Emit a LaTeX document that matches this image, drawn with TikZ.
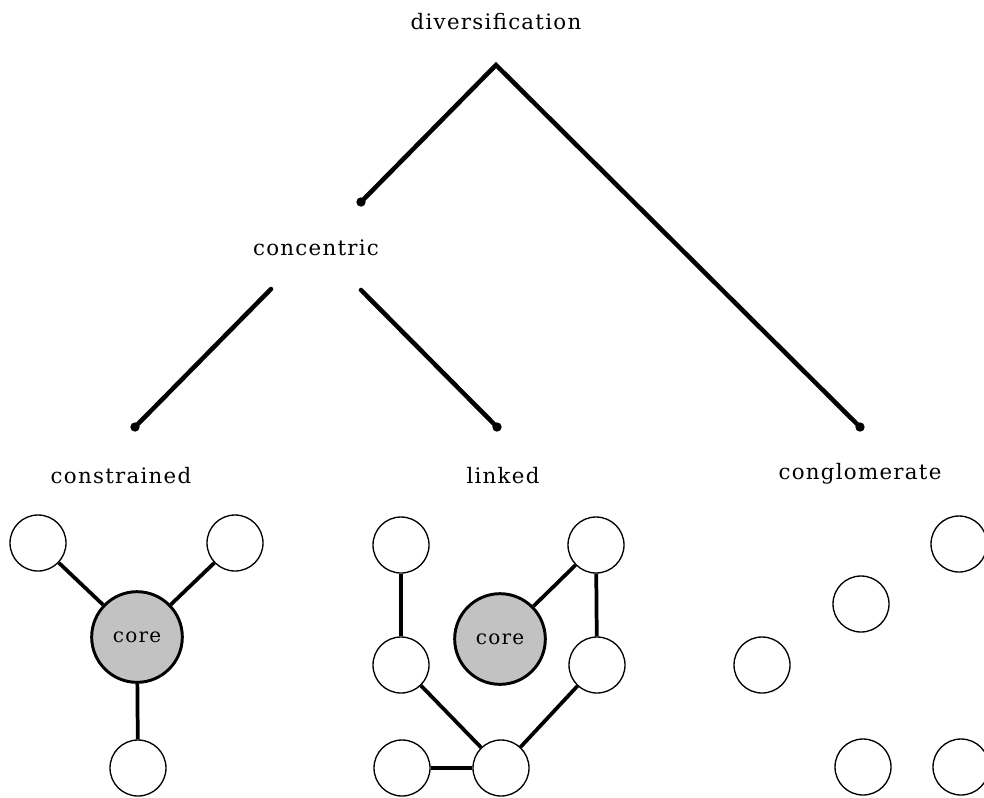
\documentclass[tikz,border=0pt]{standalone}
\usepackage{fontspec}
\setmainfont{DejaVu Serif}[LetterSpace=6]
\begin{document}
\begin{tikzpicture}[x=0.75pt,y=-0.75pt,
  lbl/.style={font=\fontsize{16}{19}\selectfont, inner sep=0pt},
  sat/.style={circle, draw, line width=1pt, minimum size=42pt, inner sep=0pt},
  corenode/.style={circle, draw, line width=2.2pt, fill=black!24, minimum size=68pt, inner sep=0pt, font=\fontsize{15}{18}\selectfont},
  branch/.style={line width=3.4pt, line cap=round},
  linkline/.style={line width=2.8pt},
  enddot/.style={circle, fill=black, inner sep=0pt, minimum size=7pt}]
\useasboundingbox (0,0) rectangle (984,797);
% labels
\node[lbl] (div) at (496,22) {diversification};
\node[lbl] (conc) at (316,248) {concentric};
\node[lbl] (cons) at (121,476) {constrained};
\node[lbl] (link) at (503,476) {linked};
\node[lbl] (cong) at (860,474) {conglomerate};
% tree
\coordinate (apex) at (496,65);
\node[enddot] (dconc) at (361,202) {};
\node[enddot] (dcong) at (860,427) {};
\coordinate (cl) at (271,289);
\coordinate (cr) at (361,290);
\node[enddot] (dcons) at (135,427) {};
\node[enddot] (dlink) at (497,427) {};
\draw[branch] (dconc.center) -- (apex) -- (dcong.center);
\draw[branch] (cl) -- (dcons.center);
\draw[branch] (cr) -- (dlink.center);
% constrained
\node[sat] (a1) at (38,543) {};
\node[sat] (a2) at (235,543) {};
\node[corenode] (acore) at (137,637) {core};
\node[sat] (a3) at (138,768) {};
\draw[linkline] (a1) -- (acore);
\draw[linkline] (a2) -- (acore);
\draw[linkline] (acore) -- (a3);
% linked
\node[sat] (b1) at (401,545) {};
\node[sat] (b2) at (596,545) {};
\node[corenode] (bcore) at (500,639) {core};
\node[sat] (b3) at (401,665) {};
\node[sat] (b4) at (597,665) {};
\node[sat] (b5) at (402,768) {};
\node[sat] (b6) at (501,768) {};
\draw[linkline] (b1) -- (b3);
\draw[linkline] (b2) -- (bcore);
\draw[linkline] (b2) -- (b4);
\draw[linkline] (b3) -- (b6);
\draw[linkline] (b4) -- (b6);
\draw[linkline] (b5) -- (b6);
% conglomerate
\node[sat] (c1) at (959,544) {};
\node[sat] (c2) at (861,604) {};
\node[sat] (c3) at (762,665) {};
\node[sat] (c4) at (863,767) {};
\node[sat] (c5) at (961,767) {};
\end{tikzpicture}
\end{document}
